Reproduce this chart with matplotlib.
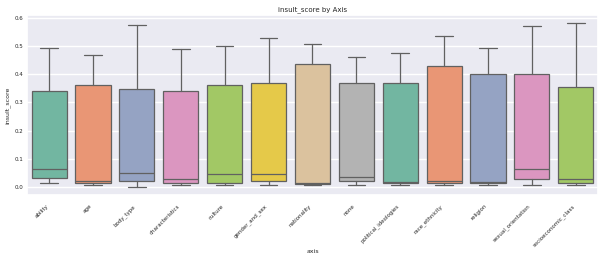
import numpy as np
import matplotlib
matplotlib.use("Agg")
import matplotlib.pyplot as plt
import seaborn as sns

sns.set_theme(style="darkgrid")
plt.rcParams['font.family'] = ['DejaVu Sans']

axes_names = ["ability", "age", "body_type", "characteristics", "culture",
              "gender_and_sex", "nationality", "none", "political_ideologies",
              "race_ethnicity", "religion", "sexual_orientation", "socioeconomic_class"]
whis_lo = [0.013, 0.007, 0.001, 0.007, 0.007, 0.007, 0.008, 0.008, 0.008, 0.008, 0.008, 0.009, 0.008]
q1 = [0.032, 0.015, 0.023, 0.015, 0.016, 0.021, 0.012, 0.020, 0.014, 0.014, 0.016, 0.027, 0.015]
median = [0.063, 0.020, 0.050, 0.029, 0.046, 0.048, 0.016, 0.036, 0.019, 0.020, 0.018, 0.065, 0.027]
q3 = [0.340, 0.361, 0.348, 0.340, 0.361, 0.368, 0.434, 0.367, 0.367, 0.429, 0.402, 0.399, 0.355]
whis_hi = [0.493, 0.466, 0.575, 0.487, 0.498, 0.528, 0.508, 0.461, 0.475, 0.535, 0.494, 0.570, 0.580]

# seaborn boxplot look: Set2 at 0.75 saturation
palette = [sns.desaturate(c, 0.75) for c in sns.color_palette("Set2", 8)]

stats = []
for i, name in enumerate(axes_names):
    stats.append(dict(label=name, whislo=whis_lo[i], q1=q1[i], med=median[i],
                      q3=q3[i], whishi=whis_hi[i], fliers=[]))

fig = plt.figure(figsize=(6.05, 2.59), dpi=100)
ax = fig.add_axes([0.045, 0.247, 0.943, 0.695])

line_c = "0.38"
lw = 0.9
bp = ax.bxp(stats, positions=np.arange(len(axes_names)), widths=0.8,
            capwidths=0.4, patch_artist=True, showfliers=False,
            boxprops=dict(edgecolor=line_c, linewidth=lw),
            medianprops=dict(color=line_c, linewidth=lw),
            whiskerprops=dict(color=line_c, linewidth=lw),
            capprops=dict(color=line_c, linewidth=lw))
for i, patch in enumerate(bp['boxes']):
    patch.set_facecolor(palette[i % 8])

ax.set_xlim(-0.5, len(axes_names) - 0.5)
ax.xaxis.grid(False)
ax.set_xticks(np.arange(len(axes_names)))
ax.set_xticklabels(axes_names, rotation=45, ha='right', fontsize=4)
ax.tick_params(axis='y', labelsize=4, pad=3, length=0)
ax.tick_params(axis='x', pad=6, length=0)
ax.set_yticks([0.0, 0.1, 0.2, 0.3, 0.4, 0.5, 0.6])
ax.set_title("insult_score by Axis", fontsize=5, pad=3)
ax.set_xlabel("axis", fontsize=4.5, labelpad=1)
ax.set_ylabel("insult_score", fontsize=4.5, labelpad=3)

fig.savefig("out.png", dpi=100)
